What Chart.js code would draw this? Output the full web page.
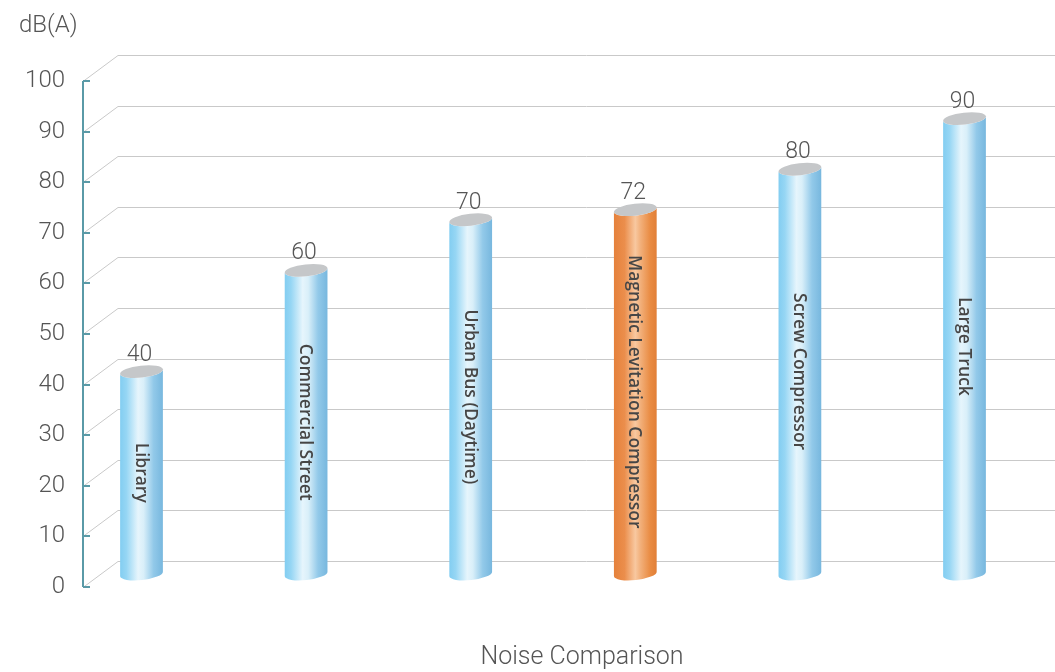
<!DOCTYPE html>
<html>
<head>
<meta charset="utf-8">
<script src="https://cdn.jsdelivr.net/npm/chart.js@4"></script>
<style>
  html, body { margin: 0; padding: 0; background: #ffffff; }
  canvas { display: block; }
</style>
</head>
<body>
<canvas id="c" width="1055" height="672"></canvas>
<script>
// ---- data ----
const categories = ['Library', 'Commercial Street', 'Urban Bus (Daytime)', 'Magnetic Levitation Compressor', 'Screw Compressor', 'Large Truck'];
const noiseValues = [40, 60, 70, 72, 80, 90];
const highlighted = [false, false, false, true, false, false];
const yTickValues = [0, 10, 20, 30, 40, 50, 60, 70, 80, 90, 100];
const yAxisTitle = 'dB(A)';
const xAxisTitle = 'Noise Comparison';

// ---- style ----
const FONT = 'Roboto, "Noto Sans", "DejaVu Sans", sans-serif';
const LABEL_FONT = '"Open Sans", "Noto Sans", sans-serif';
const DEPTH_X = 35, DEPTH_Y = 26;
const BAR_W = 43, ELL_RY = 6, ELL_ROT = -0.11;
const AXIS_COLOR = '#5a9aa7';
const GRID_COLOR = '#c9c9c9';
const TEXT_COLOR = '#555555';

function blueGradient(ctx, x0, x1) {
  const g = ctx.createLinearGradient(x0, 0, x1, 0);
  g.addColorStop(0.00, '#82cdf1');
  g.addColorStop(0.15, '#96d6f4');
  g.addColorStop(0.42, '#e6f5fc');
  g.addColorStop(0.55, '#d9eff9');
  g.addColorStop(0.78, '#92c9e9');
  g.addColorStop(1.00, '#77b7de');
  return g;
}
function orangeGradient(ctx, x0, x1) {
  const g = ctx.createLinearGradient(x0, 0, x1, 0);
  g.addColorStop(0.00, '#e5813b');
  g.addColorStop(0.25, '#eb8e4c');
  g.addColorStop(0.50, '#f8c8a0');
  g.addColorStop(0.62, '#f2b07b');
  g.addColorStop(0.85, '#e98b42');
  g.addColorStop(1.00, '#e17f37');
  return g;
}

function ellPoint(cx, cy, rx, ry, rot, t) {
  return [cx + rx * Math.cos(t) * Math.cos(rot) - ry * Math.sin(t) * Math.sin(rot),
          cy + rx * Math.cos(t) * Math.sin(rot) + ry * Math.sin(t) * Math.cos(rot)];
}

const gridPlugin = {
  id: 'grid3d',
  beforeDatasetsDraw(chart) {
    const ctx = chart.ctx;
    const y = chart.scales.y;
    const left = chart.chartArea.left;
    ctx.save();
    ctx.strokeStyle = GRID_COLOR;
    ctx.lineWidth = 1;
    yTickValues.forEach(v => {
      const py = Math.round(y.getPixelForValue(v)) + 0.5;
      ctx.beginPath();
      ctx.moveTo(left, py);
      ctx.lineTo(left + DEPTH_X, py - DEPTH_Y);
      ctx.lineTo(chart.width, py - DEPTH_Y);
      ctx.stroke();
    });
    ctx.strokeStyle = AXIS_COLOR;
    ctx.lineWidth = 2;
    ctx.beginPath();
    ctx.moveTo(left, y.getPixelForValue(100));
    ctx.lineTo(left, y.getPixelForValue(0));
    ctx.stroke();
    yTickValues.forEach(v => {
      const py = Math.round(y.getPixelForValue(v));
      ctx.beginPath();
      ctx.moveTo(left, py);
      ctx.lineTo(left + 7, py);
      ctx.stroke();
    });
    ctx.fillStyle = TEXT_COLOR;
    ctx.font = '300 24px ' + FONT;
    ctx.textAlign = 'left';
    ctx.textBaseline = 'middle';
    ctx.fillText(yAxisTitle, 19, 26);
    ctx.font = '300 25px ' + FONT;
    ctx.textAlign = 'center';
    ctx.fillText(xAxisTitle, 582, 658);
    ctx.restore();
  },
  afterDatasetsDraw(chart) {
    const ctx = chart.ctx;
    const meta = chart.getDatasetMeta(0);
    ctx.save();
    meta.data.forEach((el, i) => {
      const cx = el.x + DEPTH_X / 2;
      const topY = el.y - DEPTH_Y / 2;
      const botY = el.base - DEPTH_Y / 2;
      const rx = BAR_W / 2;
      const tl = ellPoint(cx, topY, rx, ELL_RY, ELL_ROT, Math.PI);
      const bl = ellPoint(cx, botY, rx, ELL_RY, ELL_ROT, Math.PI);
      const tr = ellPoint(cx, topY, rx, ELL_RY, ELL_ROT, 0);
      ctx.beginPath();
      ctx.moveTo(tl[0], tl[1]);
      ctx.lineTo(bl[0], bl[1]);
      ctx.ellipse(cx, botY, rx, ELL_RY, ELL_ROT, Math.PI, 0, true);
      ctx.lineTo(tr[0], tr[1]);
      ctx.ellipse(cx, topY, rx, ELL_RY, ELL_ROT, 0, Math.PI, false);
      ctx.closePath();
      ctx.fillStyle = highlighted[i] ? orangeGradient(ctx, cx - rx, cx + rx) : blueGradient(ctx, cx - rx, cx + rx);
      ctx.fill();
      ctx.beginPath();
      ctx.ellipse(cx, topY, rx, ELL_RY, ELL_ROT, 0, Math.PI * 2);
      ctx.fillStyle = '#c5c7c9';
      ctx.fill();
      ctx.fillStyle = TEXT_COLOR;
      ctx.font = '300 23px ' + FONT;
      ctx.textAlign = 'center';
      ctx.textBaseline = 'alphabetic';
      ctx.fillText(String(noiseValues[i]), cx - 2, topY - 11);
      ctx.save();
      ctx.translate(cx - 1, (topY + botY) / 2);
      ctx.rotate(Math.PI / 2);
      ctx.fillStyle = '#464646';
      ctx.font = '600 17.5px ' + LABEL_FONT;
      ctx.textAlign = 'center';
      ctx.textBaseline = 'middle';
      ctx.fillText(categories[i], 0, 0);
      ctx.restore();
    });
    ctx.restore();
  }
};

new Chart(document.getElementById('c'), {
  type: 'bar',
  data: {
    datasets: [{
      data: noiseValues.map((v, i) => ({ x: i, y: v })),
      backgroundColor: 'rgba(0,0,0,0)',
      borderWidth: 0,
      barThickness: BAR_W
    }]
  },
  options: {
    responsive: false,
    animation: false,
    events: [],
    layout: { padding: { top: 81, bottom: 85, left: 0, right: 35 } },
    plugins: { legend: { display: false }, tooltip: { enabled: false }, title: { display: false } },
    scales: {
      x: { type: 'linear', display: false, offset: false, min: -0.2491, max: 5.4435 },
      y: {
        min: 0, max: 100,
        afterBuildTicks: s => { s.ticks = yTickValues.map(v => ({ value: v })); },
        afterFit: s => { s.width = 83; },
        grid: { display: false, drawTicks: false },
        border: { display: false },
        ticks: { padding: 18, color: TEXT_COLOR, font: { family: FONT, size: 24, weight: '300' } }
      }
    }
  },
  plugins: [gridPlugin]
});
</script>
</body>
</html>
